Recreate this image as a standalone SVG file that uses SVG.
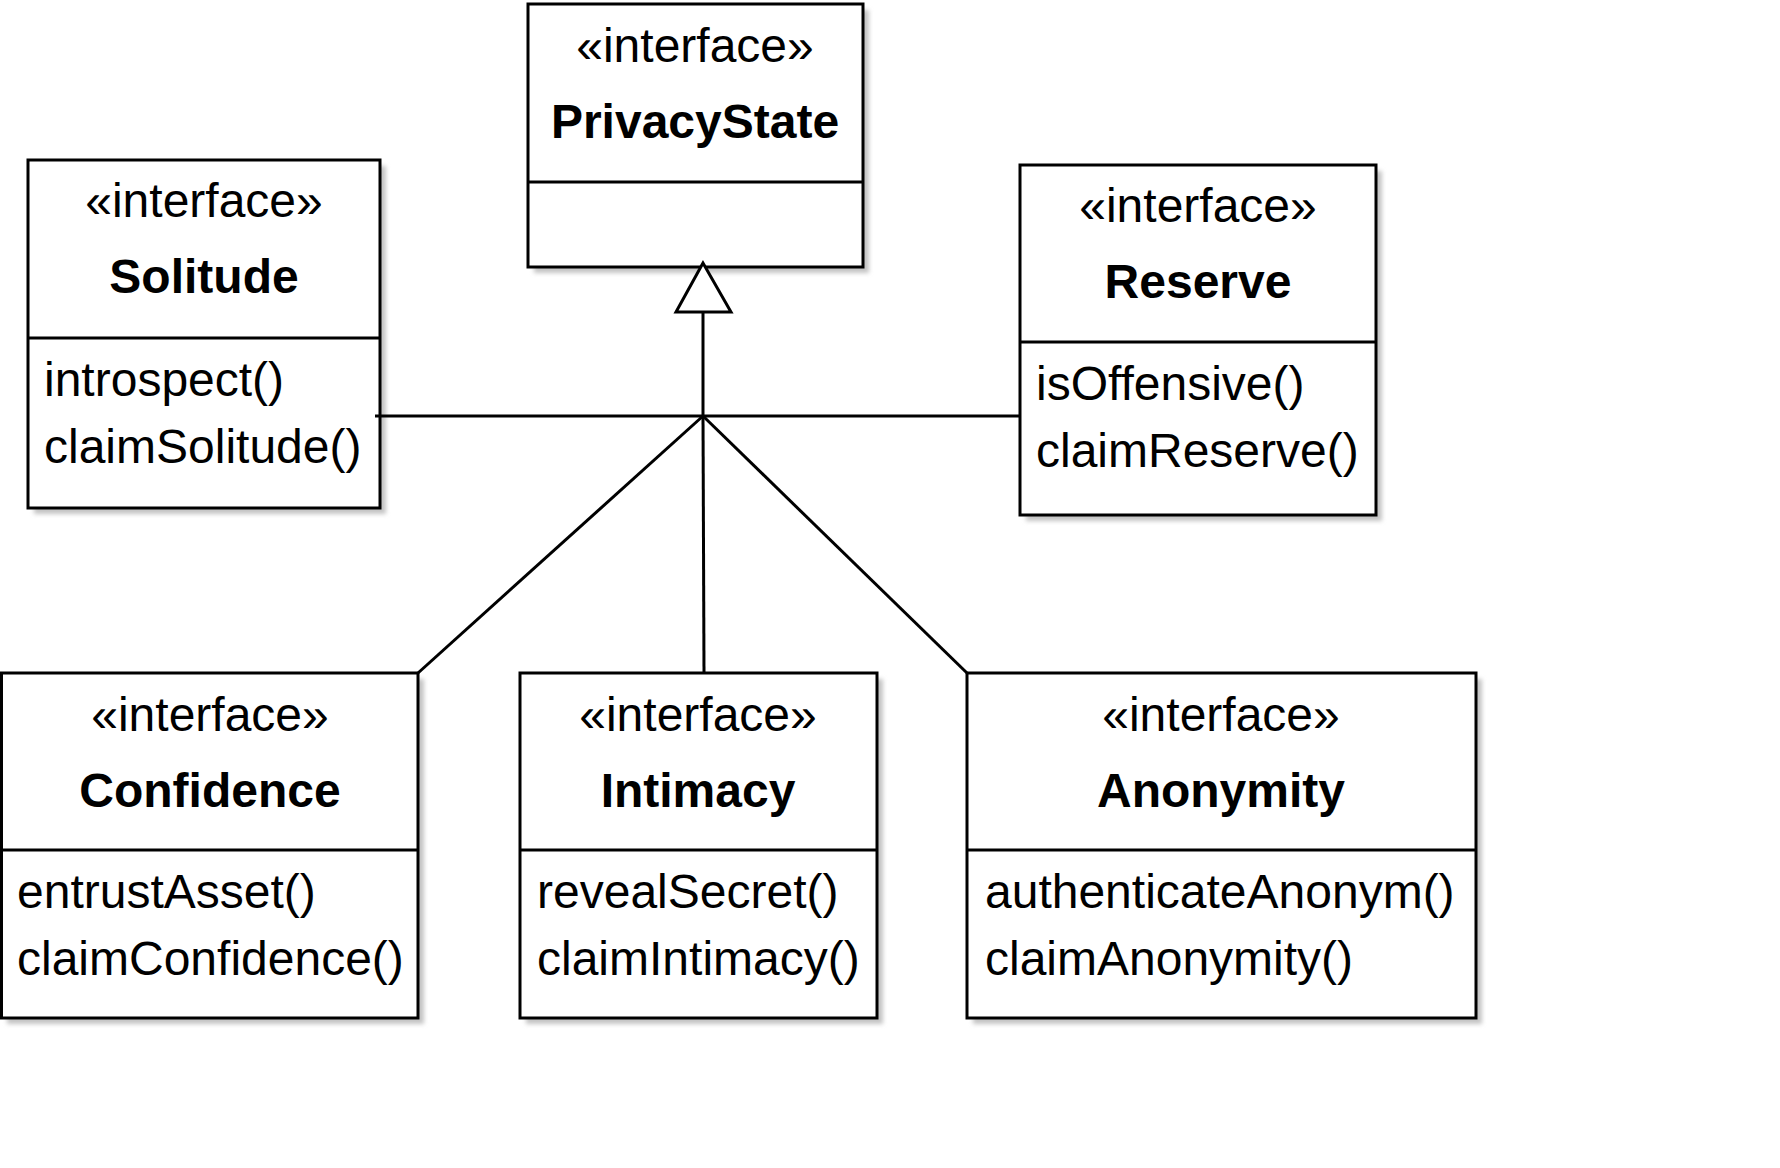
<svg xmlns="http://www.w3.org/2000/svg" width="1780" height="1168" viewBox="0 0 1780 1168">
<style>
.box{fill:#fff;stroke:#000;stroke-width:3}
.shadow{fill:#c4c4c4;filter:url(#blur)}
.div{stroke:#000;stroke-width:3}
.st{font-family:"Liberation Sans",Arial,sans-serif;font-size:48px;text-anchor:middle;fill:#000}
.nm{font-family:"Liberation Sans",Arial,sans-serif;font-size:48px;font-weight:bold;text-anchor:middle;fill:#000}
.op{font-family:"Liberation Sans",Arial,sans-serif;font-size:48px;fill:#000}
.conn{stroke:#000;stroke-width:3;fill:none}
</style>
<defs>
<filter id="blur" x="-5%" y="-5%" width="110%" height="110%"><feGaussianBlur stdDeviation="2"/></filter>
</defs>
<rect width="1780" height="1168" fill="#fff"/>
<g id="PrivacyState">
<rect class="shadow" x="534" y="10" width="335" height="263"/>
<rect class="box" x="528" y="4" width="335" height="263"/>
<line class="div" x1="528" y1="182" x2="863" y2="182"/>
<text class="st" x="695" y="62">«interface»</text>
<text class="nm" x="695" y="138">PrivacyState</text>
</g>
<g id="Solitude">
<rect class="shadow" x="34" y="166" width="352" height="348"/>
<rect class="box" x="28" y="160" width="352" height="348"/>
<line class="div" x1="28" y1="338" x2="380" y2="338"/>
<text class="st" x="204" y="217">«interface»</text>
<text class="nm" x="204" y="293">Solitude</text>
<text class="op" x="44" y="396">introspect()</text>
<text class="op" x="44" y="463">claimSolitude()</text>
</g>
<g id="Reserve">
<rect class="shadow" x="1026" y="171" width="356" height="350"/>
<rect class="box" x="1020" y="165" width="356" height="350"/>
<line class="div" x1="1020" y1="342" x2="1376" y2="342"/>
<text class="st" x="1198" y="222">«interface»</text>
<text class="nm" x="1198" y="298">Reserve</text>
<text class="op" x="1036" y="400">isOffensive()</text>
<text class="op" x="1036" y="467">claimReserve()</text>
</g>
<g id="Confidence">
<rect class="shadow" x="7" y="679" width="417" height="345"/>
<rect class="box" x="1.5" y="673" width="416.5" height="345"/>
<line class="div" x1="1.5" y1="850" x2="418" y2="850"/>
<text class="st" x="210" y="731">«interface»</text>
<text class="nm" x="210" y="807">Confidence</text>
<text class="op" x="17" y="908">entrustAsset()</text>
<text class="op" x="17" y="975">claimConfidence()</text>
</g>
<g id="Intimacy">
<rect class="shadow" x="526" y="679" width="357" height="345"/>
<rect class="box" x="520" y="673" width="357" height="345"/>
<line class="div" x1="520" y1="850" x2="877" y2="850"/>
<text class="st" x="698" y="731">«interface»</text>
<text class="nm" x="698" y="807">Intimacy</text>
<text class="op" x="537" y="908">revealSecret()</text>
<text class="op" x="537" y="975">claimIntimacy()</text>
</g>
<g id="Anonymity">
<rect class="shadow" x="973" y="679" width="509" height="345"/>
<rect class="box" x="967" y="673" width="509" height="345"/>
<line class="div" x1="967" y1="850" x2="1476" y2="850"/>
<text class="st" x="1221" y="731">«interface»</text>
<text class="nm" x="1221" y="807">Anonymity</text>
<text class="op" x="985" y="908">authenticateAnonym()</text>
<text class="op" x="985" y="975">claimAnonymity()</text>
</g>
<g id="connectors">
<line class="conn" x1="375" y1="416" x2="1020" y2="416"/>
<line class="conn" x1="703" y1="312" x2="703" y2="416"/>
<line class="conn" x1="703" y1="416" x2="418" y2="673"/>
<line class="conn" x1="703" y1="416" x2="704" y2="673"/>
<line class="conn" x1="703" y1="416" x2="967" y2="673"/>
<polygon points="703,263 676,312 731,312" fill="#fff" stroke="#000" stroke-width="3"/>
</g>
</svg>
